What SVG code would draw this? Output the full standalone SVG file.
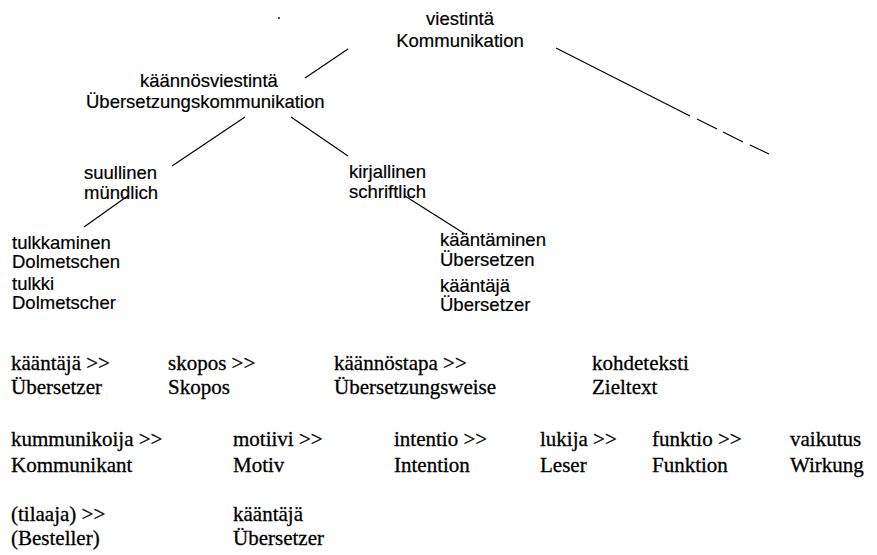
<svg xmlns="http://www.w3.org/2000/svg" width="877" height="555" viewBox="0 0 877 555">
  <style>
    .s { font-family: "Liberation Sans", Arial, sans-serif; font-size: 18.5px; fill: #000; stroke: #000; stroke-width: 0.2; }
    .m { text-anchor: middle; }
    .r { font-family: "Liberation Serif", "Times New Roman", serif; font-size: 21px; fill: #000; stroke: #000; stroke-width: 0.3; }
    .ln { stroke: #000; stroke-width: 1.2; fill: none; }
  </style>
  <rect width="877" height="555" fill="#fff"/>

  <!-- stray dot near the top -->
  <circle cx="279" cy="18" r="0.9" fill="#000"/>

  <!-- tree connectors -->
  <g id="connectors">
    <line class="ln" x1="305" y1="78" x2="348" y2="49"/>
    <line class="ln" x1="556" y1="48" x2="690" y2="116"/>
    <line class="ln" x1="697" y1="119" x2="717" y2="129"/>
    <line class="ln" x1="723" y1="132" x2="743" y2="142"/>
    <line class="ln" x1="750" y1="145" x2="769" y2="154"/>
    <line class="ln" x1="245" y1="117" x2="172" y2="166"/>
    <line class="ln" x1="291" y1="117" x2="348" y2="156"/>
    <line class="ln" x1="129" y1="195" x2="84" y2="227"/>
    <line class="ln" x1="405" y1="196" x2="465" y2="234"/>
  </g>

  <!-- tree nodes -->
  <g id="viestinta">
    <text class="s m" x="460" y="25">viestintä</text>
    <text class="s m" x="460" y="47">Kommunikation</text>
  </g>
  <g id="kaannosviestinta">
    <text class="s" x="140" y="87" font-size="19">käännösviestintä</text>
    <text class="s" x="86" y="108" font-size="19">Übersetzungskommunikation</text>
  </g>
  <g id="suullinen">
    <text class="s" x="84" y="179">suullinen</text>
    <text class="s" x="84" y="199">mündlich</text>
  </g>
  <g id="kirjallinen">
    <text class="s" x="349" y="178">kirjallinen</text>
    <text class="s" x="349" y="198">schriftlich</text>
  </g>
  <g id="tulkkaminen">
    <text class="s" x="12" y="249">tulkkaminen</text>
    <text class="s" x="12" y="268">Dolmetschen</text>
  </g>
  <g id="tulkki">
    <text class="s" x="12" y="290">tulkki</text>
    <text class="s" x="12" y="309">Dolmetscher</text>
  </g>
  <g id="kaantaminen">
    <text class="s" x="440" y="246">kääntäminen</text>
    <text class="s" x="440" y="266">Übersetzen</text>
  </g>
  <g id="kaantaja">
    <text class="s" x="440" y="292">kääntäjä</text>
    <text class="s" x="440" y="311">Übersetzer</text>
  </g>

  <!-- chain rows -->
  <g id="row1">
    <text class="r" x="11" y="370">kääntäjä &gt;&gt;</text>
    <text class="r" x="11" y="394">Übersetzer</text>
    <text class="r" x="168" y="370">skopos &gt;&gt;</text>
    <text class="r" x="168" y="394">Skopos</text>
    <text class="r" x="334" y="370">käännöstapa &gt;&gt;</text>
    <text class="r" x="334" y="394">Übersetzungsweise</text>
    <text class="r" x="592" y="370">kohdeteksti</text>
    <text class="r" x="592" y="394">Zieltext</text>
  </g>
  <g id="row2">
    <text class="r" x="11" y="446">kummunikoija &gt;&gt;</text>
    <text class="r" x="11" y="472">Kommunikant</text>
    <text class="r" x="233" y="446">motiivi &gt;&gt;</text>
    <text class="r" x="233" y="472">Motiv</text>
    <text class="r" x="394" y="446">intentio &gt;&gt;</text>
    <text class="r" x="394" y="472">Intention</text>
    <text class="r" x="540" y="446">lukija &gt;&gt;</text>
    <text class="r" x="540" y="472">Leser</text>
    <text class="r" x="652" y="446">funktio &gt;&gt;</text>
    <text class="r" x="652" y="472">Funktion</text>
    <text class="r" x="790" y="446">vaikutus</text>
    <text class="r" x="790" y="472">Wirkung</text>
  </g>
  <g id="row3">
    <text class="r" x="11" y="521">(tilaaja) &gt;&gt;</text>
    <text class="r" x="11" y="545">(Besteller)</text>
    <text class="r" x="233" y="521">kääntäjä</text>
    <text class="r" x="233" y="545">Übersetzer</text>
  </g>
</svg>
